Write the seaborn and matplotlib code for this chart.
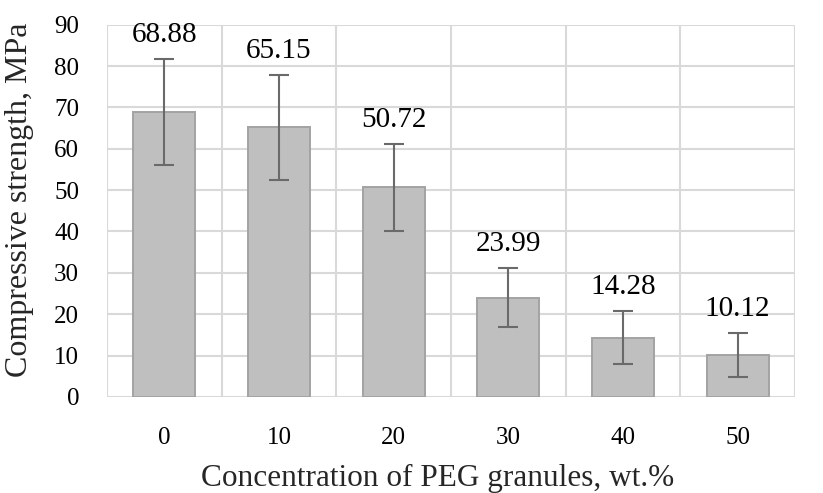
import matplotlib
matplotlib.use("Agg")
import matplotlib.pyplot as plt
import seaborn as sns
import numpy as np

# ── data ─────────────────────────────────────────────────────────────────────
concentration = ["0", "10", "20", "30", "40", "50"]
strength      = [68.88, 65.15, 50.72, 23.99, 14.28, 10.12]
strength_err  = [12.7, 12.7, 10.5, 7.2, 6.4, 5.4]
y_ticks       = [0, 10, 20, 30, 40, 50, 60, 70, 80, 90]

sns.set_theme(style="white")
plt.rcParams["font.family"] = ["Liberation Serif", "DejaVu Serif"]

fig, ax = plt.subplots(figsize=(8.23, 4.93), dpi=100)

sns.barplot(x=concentration, y=strength, color="#BFBFBF", edgecolor="#A3A3A3",
            linewidth=1.4, width=0.54, saturation=1, ax=ax, zorder=3)
xpos = np.arange(len(concentration))
ax.errorbar(xpos, strength, yerr=strength_err, fmt="none", ecolor="#6A6A6A",
            elinewidth=1.5, capsize=7, capthick=1.5, zorder=4)

for x, v, e in zip(xpos, strength, strength_err):
    ax.annotate(f"{v:.2f}", (x, v + e), xytext=(0, 8), textcoords="offset points",
                ha="center", va="bottom", fontsize=21, color="black")

# grid: horizontal at ticks, vertical at category boundaries
ax.set_ylim(0, 90)
ax.set_xlim(-0.5, len(concentration) - 0.5)
ax.set_yticks(y_ticks)
for yv in y_ticks:
    ax.axhline(yv, color="#D9D9D9", lw=1.5, zorder=0)
for xb in np.arange(-0.5, len(concentration), 1.0):
    ax.axvline(xb, color="#D9D9D9", lw=1.5, zorder=0)

for s in ax.spines.values():
    s.set_visible(False)
ax.tick_params(axis="x", length=0, labelsize=18, colors="black", pad=22)
ax.tick_params(axis="y", length=0, labelsize=18, colors="black", pad=20)
ax.set_xlabel("Concentration of PEG granules, wt.%", fontsize=22.5)
ax.set_ylabel("Compressive strength, MPa", fontsize=23)
ax.xaxis.set_label_coords(0.481, -0.18)
ax.yaxis.set_label_coords(-0.106, 0.53)

plt.subplots_adjust(left=0.13, right=0.966, top=0.95, bottom=0.195)
fig.savefig("out.png", dpi=100)
